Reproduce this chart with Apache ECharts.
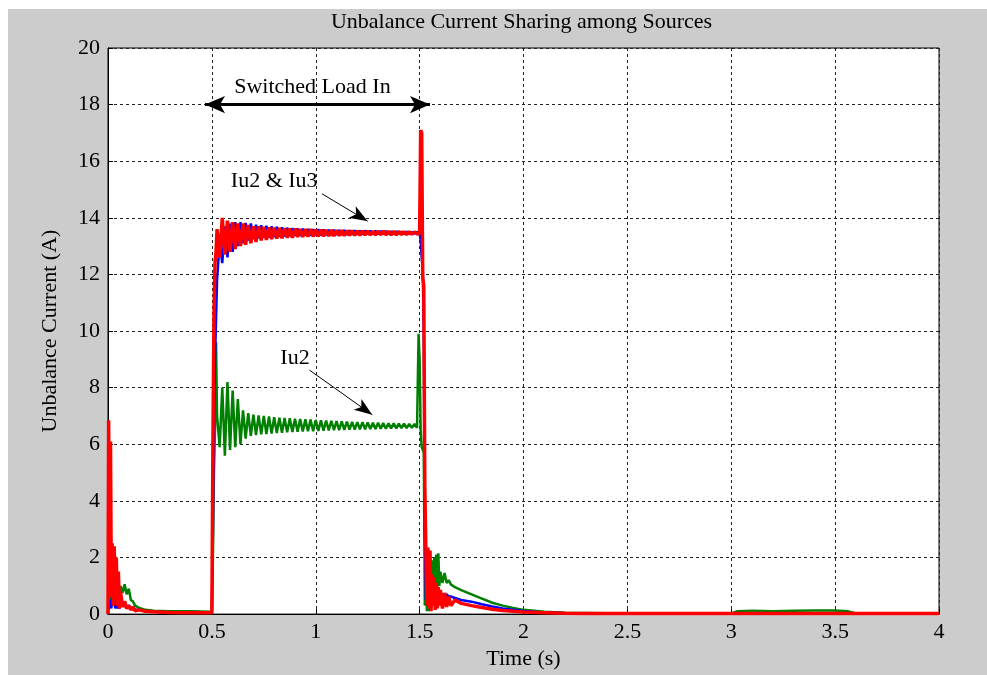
<!DOCTYPE html>
<html>
<head>
<meta charset="utf-8">
<script src="https://cdn.jsdelivr.net/npm/echarts@6/dist/echarts.min.js"></script>
<style>
html,body{margin:0;padding:0;background:#ffffff;}
#c{position:absolute;left:8px;top:9px;width:979px;height:666px;}
</style>
</head>
<body>
<div id="c"></div>
<script>
// ---------- time bases (s) ----------
const tStart = [0, 0.003, 0.008, 0.012, 0.016, 0.02, 0.025, 0.03, 0.035, 0.04, 0.045, 0.05, 0.055, 0.06, 0.07, 0.08, 0.09, 0.1, 0.11, 0.12, 0.13, 0.15, 0.18, 0.22, 0.3, 0.4, 0.49, 0.5];
const tRise = [0.505, 0.51, 0.515, 0.52];
const tPlateau = [0.525, 0.5375, 0.55, 0.5625, 0.575, 0.5875, 0.6, 0.6125, 0.625, 0.6375, 0.65, 0.6625, 0.675, 0.6875, 0.7, 0.7125, 0.725, 0.7375, 0.75, 0.7625, 0.775, 0.7875, 0.8, 0.8125, 0.825, 0.8375, 0.85, 0.8625, 0.875, 0.8875, 0.9, 0.9125, 0.925, 0.9375, 0.95, 0.9625, 0.975, 0.9875, 1.0, 1.0125, 1.025, 1.0375, 1.05, 1.0625, 1.075, 1.0875, 1.1, 1.1125, 1.125, 1.1375, 1.15, 1.1625, 1.175, 1.1875, 1.2, 1.2125, 1.225, 1.2375, 1.25, 1.2625, 1.275, 1.2875, 1.3, 1.3125, 1.325, 1.3375, 1.35, 1.3625, 1.375, 1.3875, 1.4, 1.4125, 1.425, 1.4375, 1.45, 1.4625, 1.475, 1.4875];
const tFall = [1.495, 1.5, 1.505, 1.51, 1.515, 1.52, 1.525, 1.53, 1.535, 1.54, 1.545, 1.55, 1.555, 1.56, 1.565, 1.57, 1.575, 1.58, 1.585, 1.59, 1.595, 1.6, 1.61, 1.62, 1.63, 1.64, 1.65, 1.67, 1.7, 1.75, 1.8, 1.85, 1.9, 1.95, 2.0, 2.1, 2.2, 2.3, 2.5, 3.0, 3.03, 3.1, 3.2, 3.3, 3.4, 3.5, 3.56, 3.6, 4.0];

// ---------- blue trace (A) ----------
const blueStart = [0, 0.3, 0.2, 0.5, 0.2, 0.6, 0.3, 0.5, 0.2, 0.4, 0.2, 0.35, 0.2, 0.4, 0.3, 0.35, 0.25, 0.3, 0.2, 0.25, 0.15, 0.15, 0.1, 0.08, 0.06, 0.05, 0.05, 0.05];
const blueRise = [3.0, 7.0, 9.0, 10.4];
const bluePlateau = [11.8, 13.2, 12.4, 13.7, 12.6, 13.8, 12.8, 13.85, 13.0, 13.85,
 13.1, 13.82, 13.2, 13.8, 13.25, 13.76, 13.28, 13.74, 13.3, 13.72,
 13.3, 13.7, 13.32, 13.68, 13.33, 13.66, 13.34, 13.65, 13.35, 13.64,
 13.36, 13.63, 13.36, 13.62, 13.37, 13.61, 13.37, 13.6, 13.38, 13.6,
 13.38, 13.59, 13.39, 13.58, 13.39, 13.58, 13.4, 13.57, 13.4, 13.57,
 13.4, 13.56, 13.41, 13.56, 13.41, 13.55, 13.41, 13.55, 13.42, 13.54,
 13.42, 13.54, 13.42, 13.53, 13.42, 13.53, 13.43, 13.52, 13.43, 13.52,
 13.43, 13.51, 13.43, 13.51, 13.44, 13.5, 13.44, 13.5];
const blueFall = [13.47, 13.45, 13.2, 12.6, 12.2, 10.0, 3.0, 0.5, 1.5, 0.3, 1.2, 0.3, 1.0, 0.4, 0.9, 0.4, 0.8, 0.5, 0.75, 0.5, 0.72, 0.55, 0.72, 0.6, 0.7, 0.62, 0.62, 0.57, 0.5, 0.44, 0.35, 0.27, 0.2, 0.15, 0.11, 0.06, 0.03, 0.02, 0.01, 0.01, 0.01, 0.01, 0.01, 0.01, 0.01, 0.01, 0.01, 0.01, 0.01];

// ---------- green trace (A) ----------
const greenStart = [0, 0.5, 0.2, 0.8, 0.3, 0.9, 0.4, 0.6, 0.3, 0.5, 0.6, 1.1, 0.7, 1.0, 0.75, 1.05, 0.7, 0.9, 0.5, 0.45, 0.3, 0.22, 0.15, 0.12, 0.1, 0.1, 0.08, 0.1];
const greenRise = [2.0, 5.0, 6.5, 9.6];
const greenPlateau = [7.0, 5.9, 8.0, 5.6, 8.2, 5.8, 7.9, 5.9, 7.6, 6.0,
 7.2, 6.2, 7.1, 6.3, 7.05, 6.32, 7.02, 6.35, 7.0, 6.36,
 6.98, 6.38, 6.96, 6.4, 6.94, 6.41, 6.93, 6.42, 6.92, 6.43,
 6.9, 6.44, 6.89, 6.45, 6.88, 6.46, 6.87, 6.46, 6.86, 6.47,
 6.85, 6.48, 6.84, 6.49, 6.83, 6.5, 6.82, 6.5, 6.81, 6.51,
 6.8, 6.52, 6.79, 6.52, 6.78, 6.53, 6.78, 6.53, 6.77, 6.54,
 6.76, 6.54, 6.76, 6.55, 6.75, 6.55, 6.74, 6.56, 6.74, 6.56,
 6.73, 6.57, 6.73, 6.57, 6.72, 6.58, 6.72, 6.58];
const greenFall = [9.9, 9.0, 6.5, 5.9, 5.8, 5.7, 0.3, 2.0, 0.1, 1.8, 0.1, 1.6, 0.3, 1.9, 0.6, 2.0, 0.8, 2.1, 0.9, 2.15, 1.0, 1.5, 1.1, 1.45, 1.1, 1.2, 1.05, 0.95, 0.85, 0.7, 0.55, 0.4, 0.3, 0.22, 0.15, 0.08, 0.05, 0.04, 0.02, 0.02, 0.1, 0.12, 0.1, 0.12, 0.13, 0.13, 0.1, 0.02, 0.02];

// ---------- red trace (A) ----------
const redStart = [0, 6.85, 1.0, 6.1, 0.6, 2.5, 0.3, 2.4, 0.5, 2.0, 0.3, 1.5, 0.2, 0.8, 0.25, 0.45, 0.2, 0.3, 0.15, 0.25, 0.12, 0.15, 0.1, 0.08, 0.06, 0.05, 0.05, 0.05];
const redRise = [6.0, 10.5, 12.4, 12.8];
const redPlateau = [13.6, 12.6, 14.0, 12.7, 13.9, 12.8, 13.85, 12.9, 13.8, 13.0,
 13.8, 13.05, 13.75, 13.1, 13.7, 13.15, 13.7, 13.2, 13.68, 13.22,
 13.66, 13.25, 13.65, 13.27, 13.64, 13.28, 13.63, 13.3, 13.62, 13.3,
 13.62, 13.32, 13.6, 13.32, 13.6, 13.33, 13.6, 13.34, 13.58, 13.35,
 13.58, 13.35, 13.57, 13.36, 13.57, 13.36, 13.56, 13.37, 13.56, 13.37,
 13.55, 13.38, 13.55, 13.38, 13.54, 13.38, 13.54, 13.39, 13.54, 13.39,
 13.53, 13.39, 13.53, 13.4, 13.53, 13.4, 13.52, 13.4, 13.52, 13.4,
 13.52, 13.41, 13.51, 13.41, 13.51, 13.42, 13.5, 13.43];
const redFall = [13.47, 13.45, 17.1, 17.0, 11.9, 11.6, 4.5, 2.3, 0.3, 2.35, 0.2, 2.25, 0.1, 1.4, 0.3, 1.3, 0.15, 1.1, 0.2, 0.95, 0.3, 0.85, 0.2, 0.75, 0.25, 0.62, 0.3, 0.5, 0.38, 0.3, 0.23, 0.17, 0.13, 0.1, 0.07, 0.05, 0.03, 0.02, 0.02, 0.02, 0.02, 0.02, 0.02, 0.02, 0.02, 0.02, 0.02, 0.02, 0.02];

// ---------- axes ----------
const xTicks = [0, 0.5, 1, 1.5, 2, 2.5, 3, 3.5, 4];
const yTicks = [0, 2, 4, 6, 8, 10, 12, 14, 16, 18, 20];

// ---------- annotations (data coordinates) ----------
const annoTexts = [
  {text: 'Switched Load In', at: [0.984, 18.62]},
  {text: 'Iu2 & Iu3', at: [0.8, 15.3]},
  {text: 'Iu2', at: [0.9, 9.05]}
];
const loadArrow = [[0.467, 18], [1.55, 18]];
const pointerArrows = [
  [[1.03, 14.85], [1.25, 13.88]],
  [[0.97, 8.62], [1.272, 7.04]]
];

const times = [].concat(tStart, tRise, tPlateau, tFall);
function pairs(vals) { return times.map((t, i) => [t, vals[i]]); }
const blue = [].concat(blueStart, blueRise, bluePlateau, blueFall);
const green = [].concat(greenStart, greenRise, greenPlateau, greenFall);
const red = [].concat(redStart, redRise, redPlateau, redFall);

const FONT = '"Liberation Serif", "Times New Roman", serif';
const chart = echarts.init(document.getElementById('c'), null, {renderer: 'canvas'});

const gridLine = {show: true, lineStyle: {color: '#222', width: 1, type: [3, 3]}};

chart.setOption({
  animation: false,
  backgroundColor: '#cccccc',
  graphic: [{
    type: 'text', x: 513.5, y: 13, z: 100,
    style: {text: 'Unbalance Current Sharing among Sources', fill: '#000', font: '22px ' + FONT, textAlign: 'center', textVerticalAlign: 'middle'}
  }],
  grid: {left: 100, top: 39, right: 48, bottom: 56, show: true, backgroundColor: '#ffffff', borderColor: '#000', borderWidth: 1},
  xAxis: {
    type: 'value', min: xTicks[0], max: xTicks[xTicks.length - 1], interval: 0.5,
    name: 'Time (s)', nameLocation: 'middle', nameGap: 33,
    nameTextStyle: {color: '#000', fontFamily: FONT, fontSize: 22},
    axisLine: {show: true, lineStyle: {color: '#000', width: 1}},
    axisTick: {show: true, inside: true, length: 5, lineStyle: {color: '#000'}},
    axisLabel: {color: '#000', fontFamily: FONT, fontSize: 22, margin: 7},
    splitLine: gridLine
  },
  yAxis: {
    type: 'value', min: yTicks[0], max: yTicks[yTicks.length - 1], interval: 2,
    name: 'Unbalance Current (A)', nameLocation: 'middle', nameGap: 47,
    nameTextStyle: {color: '#000', fontFamily: FONT, fontSize: 22},
    axisLine: {show: true, lineStyle: {color: '#000', width: 1}},
    axisTick: {show: true, inside: true, length: 5, lineStyle: {color: '#000'}},
    axisLabel: {color: '#000', fontFamily: FONT, fontSize: 22, margin: 8},
    splitLine: gridLine
  },
  series: [
    {type: 'line', data: pairs(green), showSymbol: false, lineStyle: {color: '#008000', width: 2.5}, itemStyle: {color: '#008000'}, z: 2},
    {type: 'line', data: pairs(blue), showSymbol: false, lineStyle: {color: '#0000ff', width: 2.5}, itemStyle: {color: '#0000ff'}, z: 3},
    {type: 'line', data: pairs(red), showSymbol: false, lineStyle: {color: '#ff0000', width: 3.5}, itemStyle: {color: '#ff0000'}, z: 4},
    {
      type: 'line', data: [], z: 10,
      markLine: {
        silent: true, animation: false,
        label: {show: false},
        data: [
          [{coord: loadArrow[0], symbol: 'arrow', symbolSize: [13, 20], lineStyle: {width: 3, color: '#000', type: 'solid'}},
           {coord: loadArrow[1], symbol: 'arrow', symbolSize: [13, 20]}],
          [{coord: pointerArrows[0][0], symbol: 'none', lineStyle: {width: 1, color: '#000', type: 'solid'}},
           {coord: pointerArrows[0][1], symbol: 'arrow', symbolSize: [10, 18]}],
          [{coord: pointerArrows[1][0], symbol: 'none', lineStyle: {width: 1, color: '#000', type: 'solid'}},
           {coord: pointerArrows[1][1], symbol: 'arrow', symbolSize: [10, 18]}]
        ],
        lineStyle: {color: '#000', type: 'solid'},
        itemStyle: {color: '#000'}
      },
      markPoint: {
        silent: true, animation: false,
        symbol: 'circle', symbolSize: 1,
        itemStyle: {color: 'rgba(0,0,0,0)'},
        label: {show: true, position: 'inside', color: '#000', fontFamily: FONT, fontSize: 22},
        data: annoTexts.map(a => ({coord: a.at, value: a.text, label: {formatter: a.text}}))
      }
    }
  ]
});
</script>
</body>
</html>
